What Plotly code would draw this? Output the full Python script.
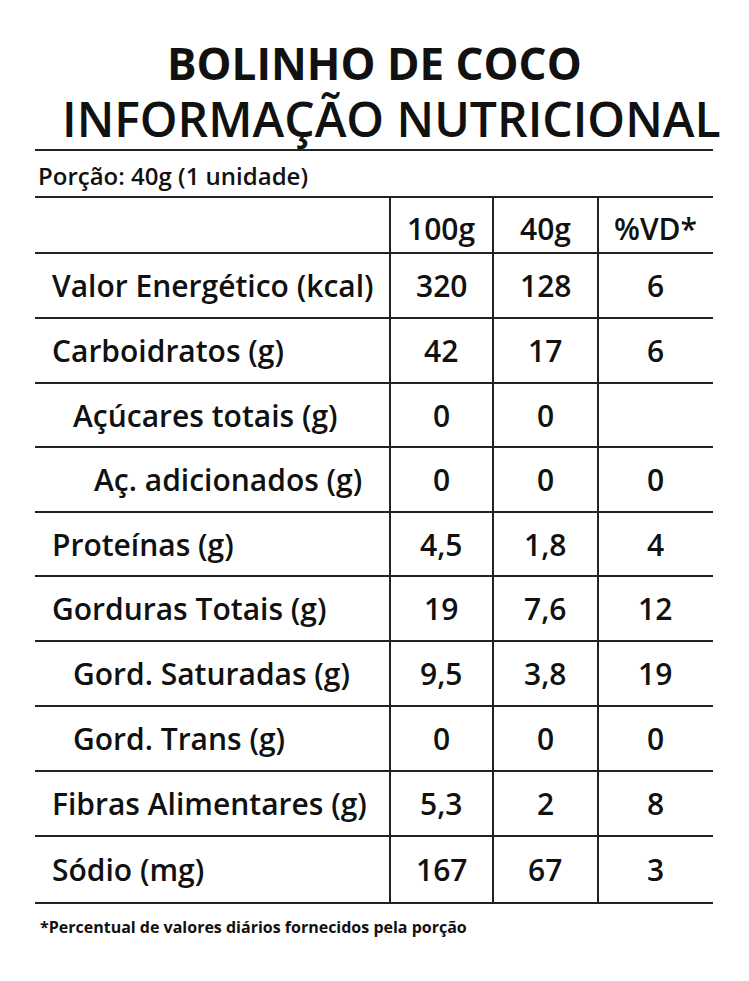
import plotly.graph_objects as go

labels = ["Valor Energético (kcal)", "Carboidratos (g)", "Açúcares totais (g)", "Aç. adicionados (g)",
          "Proteínas (g)", "Gorduras Totais (g)", "Gord. Saturadas (g)", "Gord. Trans (g)",
          "Fibras Alimentares (g)", "Sódio (mg)"]
indent = [0, 0, 1, 2, 0, 0, 1, 1, 0, 0]
col_headers = ["100g", "40g", "%VD*"]
v100 = ["320", "42", "0", "0", "4,5", "19", "9,5", "0", "5,3", "167"]
v40 = ["128", "17", "0", "0", "1,8", "7,6", "3,8", "0", "2", "67"]
vd = ["6", "6", "", "0", "4", "12", "19", "0", "8", "3"]

F = "Open Sans"
fig = go.Figure()
W, H = 749, 981
OFF = 8
row_lines = [253, 318, 383, 447, 512, 576, 641, 706, 771, 836, 903]
col_x = [441, 545, 655]
shapes = []
for y in [150, 197] + row_lines:
    shapes.append(dict(type="line", x0=35, x1=713, y0=y, y1=y, line=dict(color="#222", width=2)))
for x in [390, 493, 598]:
    shapes.append(dict(type="line", x0=x, x1=x, y0=197, y1=903, line=dict(color="#222", width=2)))

ann = []
def t(x, y, s, size, anchor="center", weight=600):
    ann.append(dict(x=x, y=y, text=s, showarrow=False,
                    xanchor=anchor, yanchor="middle",
                    font=dict(family=F, size=size, color="#111", weight=weight)))

t(374, 63, "BOLINHO DE COCO", 44, weight=700)
t(391, 118, "INFORMAÇÃO NUTRICIONAL", 48)
t(36, 175, "Porção: 40g (1 unidade)", 24, "left")
for i, h in enumerate(col_headers):
    t(col_x[i], 228, h, 30)
for r in range(len(labels)):
    yc = (row_lines[r] + row_lines[r + 1]) / 2
    t(50 + 21 * indent[r], yc, labels[r], 30, "left")
    for i, arr in enumerate([v100, v40, vd]):
        t(col_x[i], yc, arr[r], 30)
t(38, 927, "*Percentual de valores diários fornecidos pela porção", 16, "left", weight=700)

fig.update_layout(width=W, height=H, margin=dict(l=0, r=0, t=0, b=0),
                  plot_bgcolor="white", paper_bgcolor="white",
                  xaxis=dict(range=[OFF, W + OFF], visible=False, fixedrange=True),
                  yaxis=dict(range=[H + OFF, OFF], visible=False, fixedrange=True),
                  shapes=shapes, annotations=ann, showlegend=False)
fig.write_html("out.html")
